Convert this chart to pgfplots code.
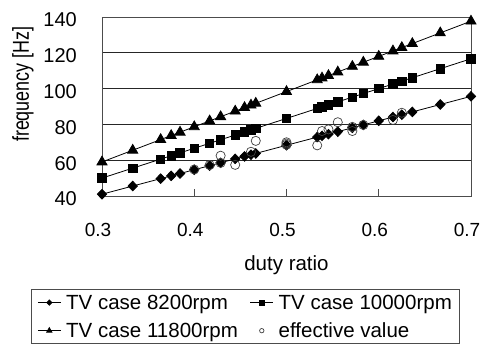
\documentclass[border=0pt]{standalone}
\usepackage{pgfplots}
\pgfplotsset{compat=1.18}
\usepackage{fontspec}
\setmainfont{Liberation Sans}
\pgfplotsset{
  legline/.style={legend image code/.code={\draw[##1, mark size=#1, mark repeat=2, mark phase=2] plot coordinates {(0pt,0pt) (11.5pt,0pt) (23pt,0pt)};}},
  legmark/.style={legend image code/.code={\draw[##1, mark size=#1] plot coordinates {(11.5pt,0pt)};}},
}
\begin{document}
\begin{tikzpicture}
\path[use as bounding box] (-102pt,-148pt) rectangle (380pt,196pt);
\begin{axis}[
  at={(0pt,0pt)}, anchor=south west,
  scale only axis, width=369pt, height=179pt,
  xmin=0.3, xmax=0.7, ymin=40, ymax=140,
  xtick={0.3,0.4,0.5,0.6,0.7},
  xticklabels={0.3,0.4,0.5,0.6,0.7},
  ytick={40,60,80,100,120,140},
  /pgf/number format/assume math mode=true,
  xticklabel style={font=\fontsize{19}{22}\selectfont, inner sep=0pt, anchor=north, yshift=-27pt, xshift=-4pt},
  yticklabel style={font=\fontsize{20}{24}\selectfont, inner sep=0pt, anchor=east, xshift=-25pt, yshift=-3pt},
  xtick pos=bottom, ytick pos=left,
  tick align=inside, major tick length=7pt,
  ytick style={draw=none},
  xtick style={black!70, line width=0.8pt},
  ymajorgrids, grid style={black!85, line width=0.8pt},
  axis line style={black!70, line width=0.8pt},
  xlabel={duty ratio},
  ylabel={\fontsize{23}{26}\selectfont\scalebox{0.78}[1]{frequency [Hz]}},
  xlabel style={font=\fontsize{20.5}{24}\selectfont, at={(axis description cs:0.5,-0.3855)}, anchor=center},
  ylabel style={at={(axis description cs:-0.214,0.625)}, anchor=center},
  legend columns=2,
  legend cell align=left,
  legend style={at={(axis description cs:-0.1932,-0.5212)}, anchor=north west,
    draw=black!70, line width=0.8pt, inner xsep=6.3pt, inner ysep=3pt,
    font=\fontsize{20.5}{24}\selectfont, row sep=8pt,
    nodes={inner xsep=1pt},
    /tikz/every odd column/.append style={column sep=4pt},
    /tikz/every even column/.append style={column sep=11pt}},
]
\addplot[black, line width=0.8pt, mark=diamond*, mark size=4.8pt, mark options={xscale=1.3}, legline=2.6pt]
coordinates {
(0.3,41.0) (0.3333,45.56) (0.3636,49.70) (0.375,51.25) (0.3846,52.56) (0.4,54.67)
(0.4167,56.94) (0.4286,58.57) (0.4444,60.74) (0.4545,62.12) (0.4615,63.08) (0.4667,63.78)
(0.5,68.33) (0.5333,72.89) (0.5385,73.59) (0.5455,74.55) (0.5556,75.93) (0.5714,78.10)
(0.5833,79.72) (0.6,82.0) (0.6154,84.10) (0.625,85.42) (0.6364,86.97) (0.6667,91.11) (0.7,95.67)};
\addlegendentry{TV case 8200rpm}
\addplot[black, line width=0.8pt, mark=square*, mark size=4.2pt, legline=2.4pt]
coordinates {
(0.3,50.0) (0.3333,55.56) (0.3636,60.61) (0.375,62.5) (0.3846,64.10) (0.4,66.67)
(0.4167,69.44) (0.4286,71.43) (0.4444,74.07) (0.4545,75.76) (0.4615,76.92) (0.4667,77.78)
(0.5,83.33) (0.5333,88.89) (0.5385,89.74) (0.5455,90.91) (0.5556,92.59) (0.5714,95.24)
(0.5833,97.22) (0.6,100.0) (0.6154,102.56) (0.625,104.17) (0.6364,106.06) (0.6667,111.11) (0.7,116.67)};
\addlegendentry{TV case 10000rpm}
\addplot[black, line width=0.8pt, mark=triangle*, mark size=5.8pt, legline=3pt]
coordinates {
(0.3,59.0) (0.3333,65.56) (0.3636,71.52) (0.375,73.75) (0.3846,75.64) (0.4,78.67)
(0.4167,81.94) (0.4286,84.29) (0.4444,87.41) (0.4545,89.39) (0.4615,90.77) (0.4667,91.78)
(0.5,98.33) (0.5333,104.89) (0.5385,105.90) (0.5455,107.27) (0.5556,109.26) (0.5714,112.38)
(0.5833,114.72) (0.6,118.0) (0.6154,121.03) (0.625,122.92) (0.6364,125.15) (0.6667,131.11) (0.7,137.67)};
\addlegendentry{TV case 11800rpm}
\addplot[only marks, mark=o, mark size=4.6pt, mark options={black!75, line width=0.7pt}, legmark=2.2pt]
coordinates {
(0.4,54.8) (0.4167,57.3) (0.4286,62.5) (0.4286,58.5) (0.4444,57.4) (0.4615,64.7)
(0.4667,70.8) (0.5,68.6) (0.5,69.3) (0.5,70.0) (0.5333,68.3) (0.5385,76.3)
(0.5455,77.2) (0.5556,81.2) (0.5714,76.3) (0.5714,78.6) (0.5833,79.7) (0.6154,82.5) (0.625,86.5)};
\addlegendentry{effective value}
\end{axis}
\end{tikzpicture}
\end{document}
